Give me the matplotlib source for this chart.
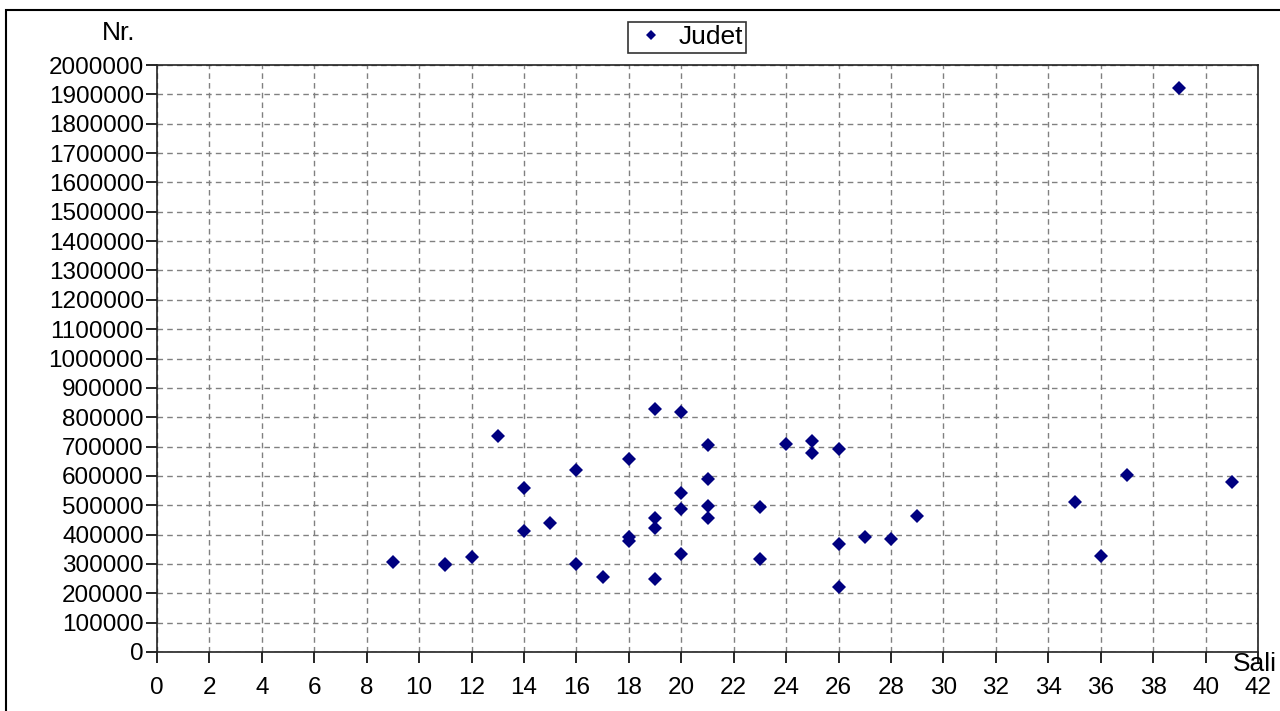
import matplotlib.pyplot as plt
from matplotlib.patches import Rectangle
from matplotlib.ticker import MultipleLocator, FuncFormatter

plt.rcParams['font.family'] = ['Liberation Sans', 'DejaVu Sans']

# Sali (x) si Nr. (y) pentru fiecare judet
sali = [9, 11, 11, 12, 13, 14, 14, 15, 16, 16, 17, 18, 18, 18,
        19, 19, 19, 19, 20, 20, 20, 20, 21, 21, 21, 21, 23, 23,
        24, 25, 25, 26, 26, 26, 27, 28, 29, 35, 36, 37, 39, 41]
nr = [306000, 300000, 297000, 324000, 736000, 560000, 412000, 438000, 621000, 299000,
      257000, 657000, 393000, 377000, 828000, 458000, 421000, 248000, 819000, 541000,
      487000, 334000, 705000, 589000, 497000, 458000, 493000, 316000, 709000, 719000,
      677000, 692000, 369000, 223000, 391000, 385000, 463000, 510000, 328000, 603000,
      1922000, 580000]

fig = plt.figure(figsize=(12.8, 7.11), dpi=100)
ax = fig.add_axes([157 / 1280, 1 - 652 / 711, (1258 - 157) / 1280, (652 - 65) / 711])

ax.plot(sali, nr, linestyle='none', marker='D', markersize=7.2,
        color='#000080', markeredgewidth=0, label='Judet')

ax.set_xlim(0, 42)
ax.set_ylim(0, 2000000)
ax.xaxis.set_major_locator(MultipleLocator(2))
ax.yaxis.set_major_locator(MultipleLocator(100000))
ax.yaxis.set_major_formatter(FuncFormatter(lambda v, p: '%d' % v))
ax.tick_params(axis='both', direction='out', length=8, width=1.2, labelsize=17.5, pad=1.5)
ax.tick_params(axis='x', pad=10)
ax.grid(True, color='#808080', linestyle=(0, (4, 3)), linewidth=1)
ax.set_axisbelow(True)
for s in ax.spines.values():
    s.set_color('#222222')
    s.set_linewidth(1.2)

fig.text(135 / 1280, 1 - 33 / 711, 'Nr.', fontsize=19, ha='right', va='center')
fig.text(1233 / 1280, 1 - 664 / 711, 'Sali', fontsize=19, ha='left', va='center')

leg = fig.legend(loc='center', bbox_to_anchor=(687 / 1280, 1 - 37.5 / 711),
                 fontsize=19, frameon=True, fancybox=False, borderpad=0.12,
                 handletextpad=0.3, handlelength=1.5, borderaxespad=0,
                 markerscale=0.75)
leg.get_frame().set_edgecolor('black')
leg.get_frame().set_linewidth(1.2)

fig.patches.append(Rectangle((6 / 1280, -0.1), 1.2, 1 - 10 / 711 + 0.1,
                             transform=fig.transFigure, fill=False,
                             edgecolor='black', linewidth=1.5))

fig.savefig('out.png', dpi=100)
